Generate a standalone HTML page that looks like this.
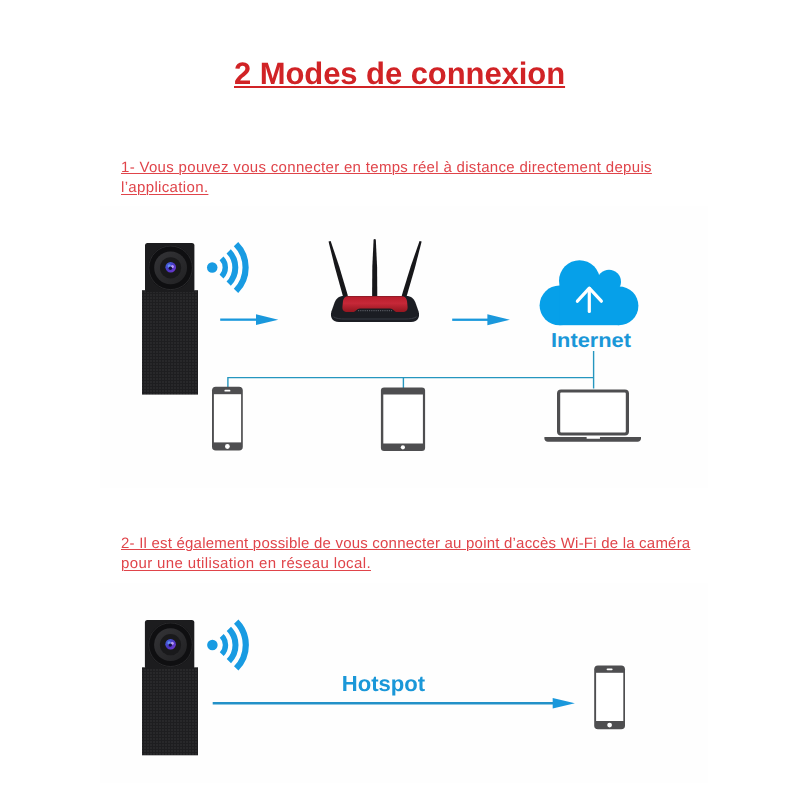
<!DOCTYPE html>
<html lang="fr">
<head>
<meta charset="utf-8">
<title>2 Modes de connexion</title>
<style>
html,body{margin:0;padding:0;background:#fff;}
body{width:800px;height:800px;position:relative;overflow:hidden;font-family:"Liberation Sans","DejaVu Sans",sans-serif;}
.t{position:absolute;white-space:nowrap;margin:0;line-height:1;text-rendering:geometricPrecision;will-change:transform;}
#title{left:233.85px;top:57.6px;font-size:31px;font-weight:bold;color:#d12326;letter-spacing:-0.07px;}
#title span{text-decoration:underline;text-decoration-thickness:2.2px;text-underline-offset:2.4px;}
.p{color:#e0444a;font-size:15px;text-decoration:underline;text-decoration-thickness:1px;text-underline-offset:1.3px;}
#dia{position:absolute;left:0;top:0;width:800px;height:800px;}
</style>
</head>
<body>
<div id="title" class="t"><span id="ts">2 Modes de connexion</span></div>
<div class="t p" id="l1" style="left:120.5px;top:160px;letter-spacing:0.316px;">1- Vous pouvez vous connecter en temps réel à distance directement depuis</div>
<div class="t p" id="l2" style="left:120.5px;top:180px;text-underline-offset:2.3px;letter-spacing:0.346px;">l’application.</div>
<div class="t p" id="l3" style="left:120.5px;top:536px;letter-spacing:0.213px;">2- Il est également possible de vous connecter au point d’accès Wi-Fi de la caméra</div>
<div class="t p" id="l4" style="left:120.5px;top:556px;text-underline-offset:2.3px;letter-spacing:0.378px;">pour une utilisation en réseau local.</div>
<svg id="dia" viewBox="0 0 800 800" width="800" height="800">
<defs>
<pattern id="tex" width="3" height="3" patternUnits="userSpaceOnUse">
<rect width="3" height="3" fill="#1e1e20"/>
<rect width="2" height="2" fill="#28282a"/>
</pattern>
<linearGradient id="lensg" x1="0" y1="0" x2="1" y2="1">
<stop offset="0" stop-color="#3f6fe0"/>
<stop offset="0.5" stop-color="#4a35c4"/>
<stop offset="1" stop-color="#7a3ad0"/>
</linearGradient>
<linearGradient id="ringg" x1="0" y1="0" x2="1" y2="1">
<stop offset="0" stop-color="#343437"/>
<stop offset="1" stop-color="#212123"/>
</linearGradient>
<linearGradient id="redg" x1="0" y1="0" x2="0" y2="1">
<stop offset="0" stop-color="#b81c2a"/>
<stop offset="0.45" stop-color="#c62838"/>
<stop offset="1" stop-color="#93161f"/>
</linearGradient>
<g id="wifi" fill="none" stroke="#189be2">
<circle cx="0" cy="0" r="5.25" fill="#189be2" stroke="none"/>
<path d="M9.34 -9.18A13.1 13.1 0 0 1 9.34 9.18" stroke-width="5.4"/>
<path d="M16.48 -16.19A23.1 23.1 0 0 1 16.48 16.19" stroke-width="6.0"/>
<path d="M23.82 -23.41A33.4 33.4 0 0 1 23.82 23.41" stroke-width="6.2"/>
</g>
<g id="camhead">
<rect x="0" y="0" width="49.4" height="49" rx="2.5" fill="#1c1c1e"/>
<circle cx="25.6" cy="24.8" r="22.4" fill="#0f0f11"/>
<circle cx="25.6" cy="24.8" r="21.8" fill="none" stroke="#2c2c2f" stroke-width="0.9"/>
<circle cx="25.6" cy="24.8" r="16.4" fill="url(#ringg)"/>
<circle cx="25.6" cy="24.8" r="10.6" fill="#19191b"/>
<circle cx="25.7" cy="24.3" r="5.3" fill="url(#lensg)"/>
<circle cx="24.3" cy="23" r="1.7" fill="#6fa8ff" opacity="0.75"/>
<circle cx="27.4" cy="23.4" r="1.5" fill="#d2b8ff" opacity="0.8"/>
<circle cx="25.4" cy="25.2" r="1.7" fill="#11113a"/>
</g>
<g id="phone">
<rect x="0" y="0" width="30.8" height="63.8" rx="3.8" fill="#4e4e50"/>
<rect x="1.9" y="7.4" width="27.2" height="48.2" fill="#fff"/>
<rect x="12.4" y="3" width="6" height="1.8" rx="0.9" fill="#fff"/>
<circle cx="15.4" cy="59.7" r="2.4" fill="#fff"/>
</g>
</defs>

<!-- faint photo backgrounds -->

<rect x="100" y="206" width="608" height="282" fill="#fefefe"/>
<rect x="100" y="583" width="608" height="200" fill="#fefefe"/>
<!-- ===== diagram 1 ===== -->
<rect x="142" y="290.2" width="56" height="104.4" fill="url(#tex)"/>
<use href="#camhead" x="145" y="243"/>
<use href="#wifi" x="212.2" y="267.5"/>
<g fill="#1a98dc">
<rect x="220.2" y="318.5" width="37" height="2.3"/>
<path d="M256 314.2L278.3 319.65L256 325.1Z"/>
<rect x="452.2" y="318.6" width="37" height="2.3"/>
<path d="M487.4 314.3L509.9 319.75L487.4 325.2Z"/>
</g>

<!-- router -->
<g id="router">
<g fill="#17171a">
<path d="M328.54 241.51L330.66 240.89L339.23 266.58L347.9 295.83L343.3 297.6L335.01 267.8Z"/>
<path d="M373.6 239.6Q374.7 238.4 375.8 239.6L377.1 267L377.3 297H372.1L372.3 267Z"/>
<path d="M421.65 241.52L419.55 240.88L410.69 266.56L401.7 295.81L406.3 297.6L414.91 267.82Z"/>
</g>
<path d="M344 296H406C411.5 296 413.6 298.6 415.4 302.4L418.6 311.5C420 316.5 418.4 321.8 411 321.9H339C331.6 321.8 330 316.5 331.4 311.5L334.6 302.4C336.4 298.6 338.5 296 344 296Z" fill="#1b1d23"/>
<path d="M333.5 316.8C336 318.6 340 319 345 319H405C410 319 414 318.6 416.5 316.8" fill="none" stroke="#3b3e47" stroke-width="0.9"/>
<path d="M348.5 296.3H401.5C405 296.3 406.4 298 407 301L407.6 307C407.8 310.4 406 312 402.6 312H397C394.4 312 393.4 308.4 390 308.4H360C356.6 308.4 355.6 312 353 312H347.4C344 312 342.2 310.4 342.4 307L343 301C343.6 298 345 296.3 348.5 296.3Z" fill="url(#redg)"/>
<path d="M358 310.6H392" stroke="#55585f" stroke-width="1.2" stroke-dasharray="1.2 1"/>
</g>
<!-- cloud -->
<g id="cloud" fill="#06a0e9">
<circle cx="559.4" cy="305.4" r="19.8"/>
<circle cx="619" cy="305.8" r="19.4"/>
<circle cx="579.5" cy="280.8" r="20.5"/>
<circle cx="609" cy="281.8" r="12"/>
<rect x="559.4" y="285.5" width="59.6" height="39.7"/>
</g>
<g stroke="#fff" stroke-width="3.2" fill="none" stroke-linecap="round" stroke-linejoin="round">
<path d="M589.3 311.4V288.4"/>
<path d="M577.4 301.2L589.3 288.2L601.4 301.2"/>
</g>
<text id="tint" x="551" y="347" font-family="'Liberation Sans',Arial,sans-serif" font-weight="bold" font-size="20.2" fill="#1a97d8" text-rendering="geometricPrecision" textLength="80" lengthAdjust="spacingAndGlyphs">Internet</text>

<!-- connection lines -->
<g stroke="#2596bf" stroke-width="1.4" fill="none">
<path d="M227.9 387V377.6H593.6"/>
<path d="M593.6 351V388.5"/>
<path d="M403.4 377.6V388"/>
</g>

<!-- devices -->
<use href="#phone" x="212" y="386.8"/>
<g id="tablet">
<rect x="380.9" y="387.4" width="44.2" height="63.6" rx="3.2" fill="#4e4e50"/>
<rect x="383.3" y="394.5" width="39.6" height="49" fill="#fff"/>
<circle cx="402.9" cy="447.3" r="2.1" fill="#fff"/>
</g>
<g id="laptop">
<rect x="558.6" y="391" width="68.8" height="43" rx="2.5" fill="#fff" stroke="#4e4e50" stroke-width="3.2"/>
<path d="M544.4 437H641V438.6C641 440.6 639.6 441.7 637.6 441.7H547.8C545.8 441.7 544.4 440.6 544.4 438.6Z" fill="#4e4e50"/>
<rect x="586.6" y="436.8" width="13.4" height="2" rx="0.6" fill="#fff"/>
</g>

<!-- ===== diagram 2 ===== -->
<rect x="142" y="667.3" width="56" height="88" fill="url(#tex)"/>
<use href="#camhead" x="144.9" y="619.9"/>
<use href="#wifi" x="212.4" y="645"/>
<g fill="#1a98dc">
<rect x="212.7" y="702" width="342" height="2.5" fill="#2391c8"/>
<path d="M552.7 697.9L574.9 703.2L552.7 708.5Z"/>
</g>
<text id="thot" x="341.8" y="690.6" font-family="'Liberation Sans',Arial,sans-serif" font-weight="bold" font-size="21.8" fill="#1a97d8" text-rendering="geometricPrecision" textLength="83.4" lengthAdjust="spacingAndGlyphs">Hotspot</text>
<use href="#phone" x="594.2" y="665.4"/>
</svg>
</body>
</html>
